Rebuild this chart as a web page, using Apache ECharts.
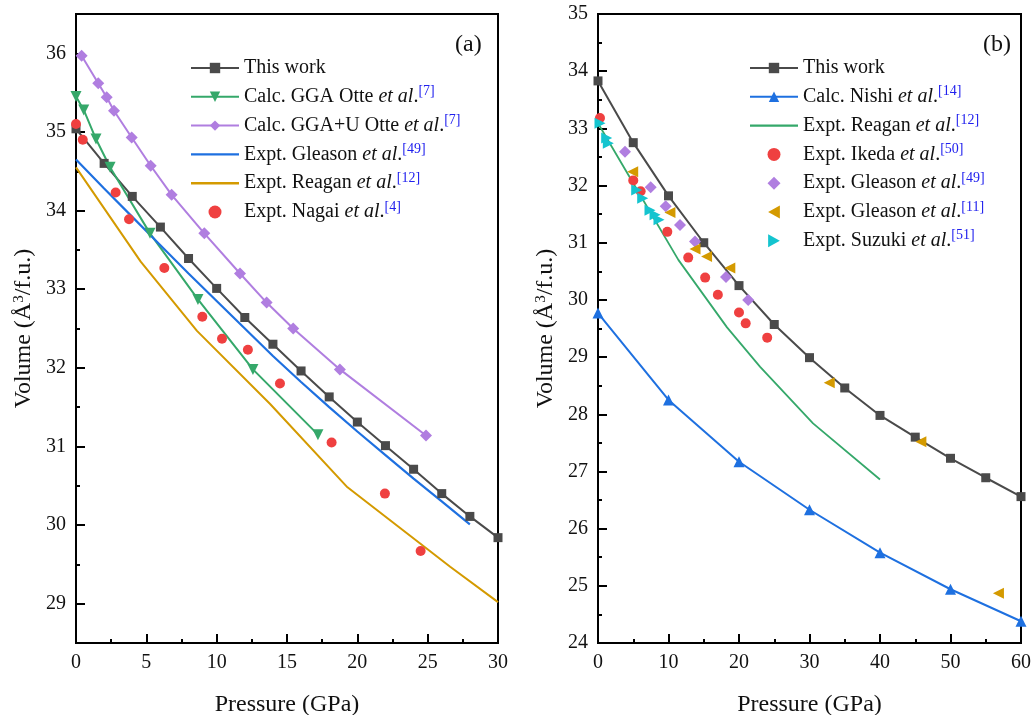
<!DOCTYPE html>
<html>
<head>
<meta charset="utf-8">
<script src="https://cdn.jsdelivr.net/npm/echarts@6/dist/echarts.min.js"></script>
<style>html,body{margin:0;padding:0;background:#fff}#c{width:1031px;height:715px}</style>
</head>
<body>
<div id="c"></div>
<script>
// ---------- Panel (a) data ----------
const aThisWorkP = [0,2,4,6,8,10,12,14,16,18,20,22,24,26,28,30];
const aThisWorkV = [35.04,34.60,34.18,33.79,33.39,33.01,32.64,32.30,31.96,31.63,31.31,31.01,30.71,30.40,30.11,29.84];
const aOtteGGAP = [0,0.55,1.42,2.42,5.26,8.67,12.58,17.2];
const aOtteGGAV = [35.45,35.28,34.91,34.55,33.71,32.87,31.98,31.15];
const aOtteGGAUP = [0.4,1.58,2.18,2.7,3.96,5.31,6.8,9.12,11.66,13.55,15.44,18.76,24.88];
const aOtteGGAUV = [35.97,35.62,35.44,35.27,34.93,34.57,34.20,33.71,33.20,32.83,32.50,31.98,31.14];
const aGleasonP = [0,2,4,6,8,10,12,14,16,18,20,22,24,26,28];
const aGleasonV = [34.65,34.28,33.92,33.56,33.20,32.85,32.50,32.15,31.82,31.50,31.19,30.89,30.59,30.30,30.01];
const aReaganP = [0,4.6,8.6,13.8,19.3,26.6,30];
const aReaganV = [34.55,33.35,32.47,31.54,30.48,29.47,29.02];
const aNagaiP = [0,0.48,2.82,3.77,6.28,8.98,10.38,12.22,14.5,18.17,21.96,24.5];
const aNagaiV = [35.10,34.90,34.23,33.89,33.27,32.65,32.37,32.23,31.80,31.05,30.40,29.67];

// ---------- Panel (b) data ----------
const bThisWorkP = [0,5,10,15,20,25,30,35,40,45,50,55,60];
const bThisWorkV = [33.83,32.75,31.82,31.00,30.25,29.57,28.99,28.46,27.98,27.60,27.23,26.89,26.56];
const bNishiP = [0,10,20,30,40,50,60];
const bNishiV = [29.77,28.25,27.17,26.33,25.58,24.94,24.38];
const bReaganP = [0,5,11.4,18.3,23,30.5,40];
const bReaganV = [33.09,32.04,30.70,29.52,28.83,27.84,26.86];
const bIkedaP = [0.28,5.0,6.05,9.83,12.8,15.2,17.0,20.0,20.95,24.0];
const bIkedaV = [33.18,32.09,31.90,31.19,30.74,30.39,30.09,29.78,29.59,29.34];
const bGleason49P = [3.83,7.47,9.6,11.63,13.76,18.16,21.3];
const bGleason49V = [32.59,31.97,31.64,31.31,31.02,30.40,30.00];
const bGleason11P = [4.92,10.2,13.76,15.4,18.7,32.8,45.8,56.8];
const bGleason11V = [32.24,31.53,30.89,30.76,30.56,28.55,27.52,24.87];
const bSuzukiP = [0.28,1.23,1.46,5.49,6.34,7.38,8.09,8.65];
const bSuzukiV = [33.09,32.83,32.74,31.92,31.78,31.57,31.49,31.40];

// ---------- Tick labels / text ----------
const aXTicks = [0,5,10,15,20,25,30];
const aYTicks = [29,30,31,32,33,34,35,36];
const bXTicks = [0,10,20,30,40,50,60];
const bYTicks = [24,25,26,27,28,29,30,31,32,33,34,35];
const legendNamesA = ['This work','Calc. GGA Otte','Calc. GGA+U Otte','Expt. Gleason','Expt. Reagan','Expt. Nagai'];
const legendRefsA = ['','7','7','49','12','4'];
const legendNamesB = ['This work','Calc. Nishi','Expt. Reagan','Expt. Ikeda','Expt. Gleason','Expt. Gleason','Expt. Suzuki'];
const legendRefsB = ['','14','12','50','49','11','51'];
const xTitle = 'Pressure (GPa)';

const FONT = '"Liberation Serif", "Times New Roman", serif';
const zip = (p, v) => p.map((x, i) => [x, v[i]]);
const C = {
  black: '#4a4a4a', green: '#35a86a', purple: '#b07ee0', blue: '#1e70e0',
  gold: '#d49a00', red: '#ef4040', cyan: '#14c4cf'
};
const TRI_DOWN = 'path://M0,0 L10,0 L5,9 Z';
const TRI_UP = 'path://M5,0 L10,9 L0,9 Z';
const TRI_LEFT = 'path://M0,5 L9,0 L9,10 Z';
const TRI_RIGHT = 'path://M9,5 L0,0 L0,10 Z';
const DIAMOND = 'path://M5,0 L10,5 L5,10 L0,5 Z';
const LINE_ICON = 'path://M0,0 L48,0 L48,2.4 L0,2.4 Z';

function fmt(key) {
  const a = key[0] === 'a';
  const idx = +key.slice(1);
  const nm = a ? legendNamesA[idx] : legendNamesB[idx];
  const rf = a ? legendRefsA[idx] : legendRefsB[idx];
  if (!rf) return '{n|' + nm + '}';
  return '{n|' + nm + ' }{i|et al}{n|.}{s|[' + rf + ']}';
}
const richStyles = {
  n: {fontFamily: FONT, fontSize: 20, color: '#111', lineHeight: 24},
  i: {fontFamily: FONT, fontSize: 20, color: '#111', fontStyle: 'italic', lineHeight: 24},
  s: {fontFamily: FONT, fontSize: 14, color: '#2020ee', verticalAlign: 'top', lineHeight: 14, padding: [0, 0, 6, 0]}
};

const axisLineStyle = {color: '#000', width: 2};
function xAxisDef(grid, max, interval, ticks) {
  return {
    gridIndex: grid, type: 'value', min: 0, max: max, interval: interval,
    axisLine: {onZero: false, lineStyle: axisLineStyle},
    axisTick: {inside: true, length: 9, lineStyle: axisLineStyle},
    minorTick: {show: true, splitNumber: 2, length: 4, lineStyle: axisLineStyle},
    splitLine: {show: false},
    axisLabel: {fontFamily: FONT, fontSize: 20, color: '#111', margin: 10, customValues: ticks},
    name: xTitle, nameLocation: 'middle', nameGap: 50,
    nameTextStyle: {fontFamily: FONT, fontSize: 24, color: '#111'}
  };
}
const yNameRich = {
  n: {fontFamily: FONT, fontSize: 24, color: '#111'},
  s: {fontFamily: FONT, fontSize: 15, color: '#111', verticalAlign: 'top', padding: [0, 0, 8, 0]}
};
const yName = '{n|Volume (Å}{s|3}{n|/f.u.)}';

const series = [];
function addLine(name, xi, yi, p, v, color, symbol, size, width) {
  series.push({
    name, type: 'line', xAxisIndex: xi, yAxisIndex: yi, data: zip(p, v),
    symbol: symbol || 'none', symbolSize: size || 0, showSymbol: !!symbol,
    lineStyle: {color, width: width || 2}, itemStyle: {color}, z: 3
  });
}
function addScatter(name, xi, yi, p, v, color, symbol, size) {
  series.push({
    name, type: 'scatter', xAxisIndex: xi, yAxisIndex: yi, data: zip(p, v),
    symbol, symbolSize: size, itemStyle: {color, opacity: 1}, z: 4
  });
}
// Panel a
addLine('a0', 0, 0, aThisWorkP, aThisWorkV, C.black, 'rect', 9, 2);
addLine('a1', 0, 0, aOtteGGAP, aOtteGGAV, C.green, TRI_DOWN, 11, 2);
addLine('a2', 0, 0, aOtteGGAUP, aOtteGGAUV, C.purple, DIAMOND, 12, 2);
addLine('a3', 0, 0, aGleasonP, aGleasonV, C.blue, null, 0, 2.2);
addLine('a4', 0, 0, aReaganP, aReaganV, C.gold, null, 0, 2);
addScatter('a5', 0, 0, aNagaiP, aNagaiV, C.red, 'circle', 10);
// Panel b
addLine('b0', 1, 2, bThisWorkP, bThisWorkV, C.black, 'rect', 9, 2);
addLine('b1', 1, 2, bNishiP, bNishiV, C.blue, TRI_UP, 11, 2);
addLine('b2', 1, 2, bReaganP, bReaganV, C.green, null, 0, 1.8);
addScatter('b3', 1, 2, bIkedaP, bIkedaV, C.red, 'circle', 10);
addScatter('b4', 1, 2, bGleason49P, bGleason49V, C.purple, DIAMOND, 12);
addScatter('b5', 1, 2, bGleason11P, bGleason11V, C.gold, TRI_LEFT, 11);
addScatter('b6', 1, 2, bSuzukiP, bSuzukiV, C.cyan, TRI_RIGHT, 11);

const legendCommon = {
  orient: 'vertical', itemWidth: 48, itemHeight: 13, itemGap: 6.8,
  textStyle: {fontFamily: FONT, fontSize: 20, color: '#111', rich: richStyles},
  formatter: fmt, selectedMode: false, padding: 0
};
const legendDataA = [
  {name: 'a0'}, {name: 'a1'}, {name: 'a2'},
  {name: 'a3', icon: LINE_ICON}, {name: 'a4', icon: LINE_ICON},
  {name: 'a5', icon: 'circle'}
];
const legendDataB = [
  {name: 'b0'}, {name: 'b1'}, {name: 'b2', icon: LINE_ICON},
  {name: 'b3', icon: 'circle'}, {name: 'b4', icon: DIAMOND},
  {name: 'b5', icon: TRI_LEFT}, {name: 'b6', icon: TRI_RIGHT}
];

const gridCommon = {show: true, borderColor: '#000', borderWidth: 2, backgroundColor: 'transparent', containLabel: false, outerBoundsMode: 'none'};
const option = {
  animation: false,
  backgroundColor: '#fff',
  grid: [
    Object.assign({left: 76, top: 14, width: 422, height: 629}, gridCommon),
    Object.assign({left: 598, top: 14, width: 423, height: 629}, gridCommon)
  ],
  xAxis: [xAxisDef(0, 30, 5, aXTicks), xAxisDef(1, 60, 10, bXTicks)],
  yAxis: [
    {
      gridIndex: 0, type: 'value', min: 28.5, max: 36.5, interval: 0.5, position: 'left',
      axisLine: {onZero: false, lineStyle: axisLineStyle},
      axisTick: {inside: true, length: 9, lineStyle: axisLineStyle, customValues: aYTicks},
      splitLine: {show: false},
      axisLabel: {fontFamily: FONT, fontSize: 20, color: '#111', margin: 10, customValues: aYTicks},
      name: yName, nameLocation: 'middle', nameGap: 40, nameRotate: 90,
      nameTextStyle: {rich: yNameRich}
    },
    {
      gridIndex: 0, type: 'value', min: 28.5, max: 36.5, interval: 0.5, position: 'left', offset: 0,
      axisLine: {show: false},
      axisTick: {inside: true, length: 4, lineStyle: axisLineStyle},
      splitLine: {show: false}, axisLabel: {show: false}
    },
    {
      gridIndex: 1, type: 'value', min: 24, max: 35, interval: 1, position: 'left',
      axisLine: {onZero: false, lineStyle: axisLineStyle},
      axisTick: {inside: true, length: 9, lineStyle: axisLineStyle},
      minorTick: {show: true, splitNumber: 2, length: 4, lineStyle: axisLineStyle},
      splitLine: {show: false},
      axisLabel: {fontFamily: FONT, fontSize: 20, color: '#111', margin: 10, customValues: bYTicks},
      name: yName, nameLocation: 'middle', nameGap: 40, nameRotate: 90,
      nameTextStyle: {rich: yNameRich}
    }
  ],
  legend: [
    Object.assign({}, legendCommon, {left: 190, top: 58, data: legendDataA}),
    Object.assign({}, legendCommon, {left: 749, top: 58, data: legendDataB})
  ],
  graphic: [
    {type: 'text', left: 455, top: 33, style: {text: '(a)', fontFamily: FONT, fontSize: 24, fill: '#111'}},
    {type: 'text', left: 983, top: 33, style: {text: '(b)', fontFamily: FONT, fontSize: 24, fill: '#111'}}
  ],
  series
};
const chart = echarts.init(document.getElementById('c'), null, {renderer: 'canvas'});
chart.setOption(option);
</script>
</body>
</html>
